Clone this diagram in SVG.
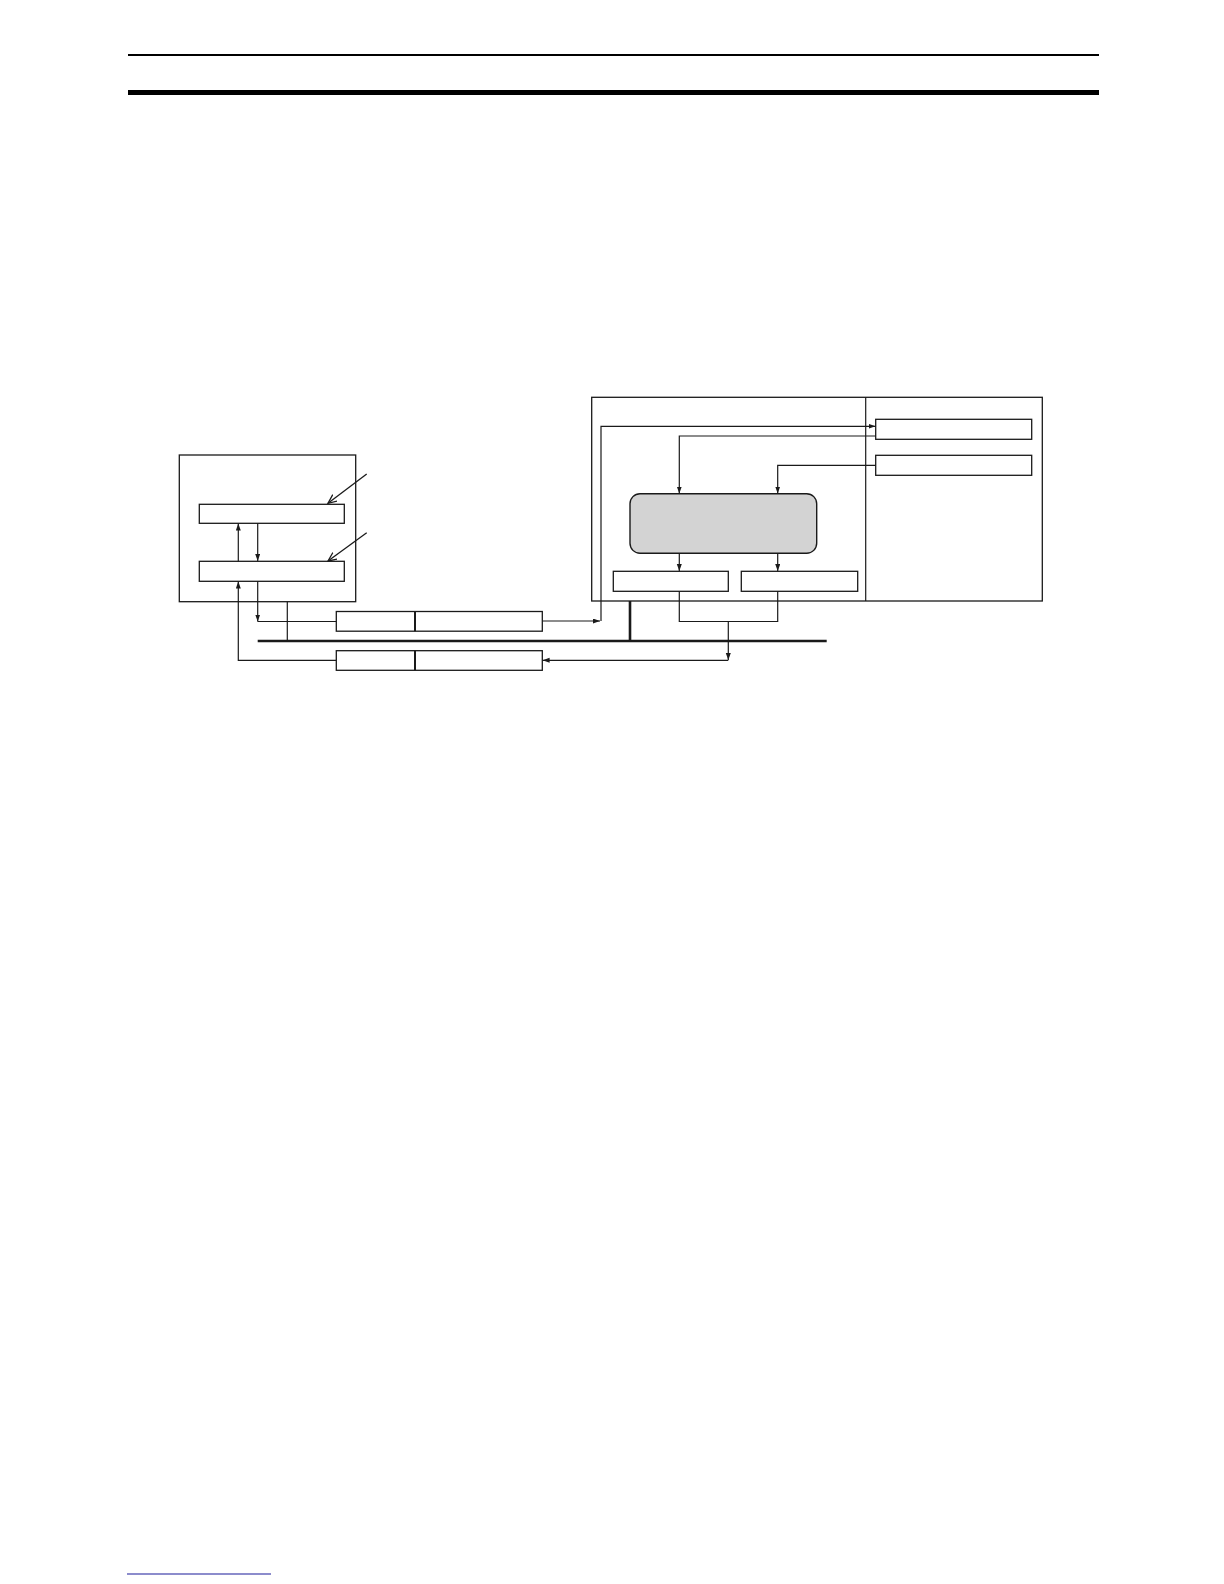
<svg xmlns="http://www.w3.org/2000/svg" width="1224" height="1584" viewBox="0 0 1224 1584">
<defs>
<style>
.box{fill:#fff;stroke:#1a1a1a;stroke-width:1.3}
.ln{fill:none;stroke:#1a1a1a;stroke-width:1.2}
.arr{fill:none;stroke:#1a1a1a;stroke-width:1.2;marker-end:url(#ah)}
.open{fill:none;stroke:#1a1a1a;stroke-width:1.3;marker-end:url(#oh)}
.bus{fill:none;stroke:#1a1a1a;stroke-width:2.6}
</style>
<marker id="ah" markerUnits="userSpaceOnUse" markerWidth="8" markerHeight="6" refX="7" refY="2.5" orient="auto">
<path d="M0,0 L7,2.5 L0,5 z" fill="#1a1a1a"/>
</marker>
<marker id="oh" markerUnits="userSpaceOnUse" markerWidth="12" markerHeight="10" refX="9" refY="4" orient="auto">
<path d="M0,0 L9,4 L0,8" fill="none" stroke="#1a1a1a" stroke-width="1.3"/>
</marker>
</defs>
<rect width="1224" height="1584" fill="#fff"/>
<g id="page-rules">
<line x1="128" y1="55" x2="1099" y2="55" stroke="#000" stroke-width="2.2"/>
<line x1="128" y1="92.5" x2="1099" y2="92.5" stroke="#000" stroke-width="5"/>
<line x1="127" y1="1574" x2="271" y2="1574" stroke="#1a1a9a" stroke-width="1.2"/>
</g>
<g id="left-unit">
<rect class="box" x="179.3" y="455" width="176.4" height="146.7"/>
</g>
<g id="left-upper-box">
<rect class="box" x="199.3" y="504.3" width="145" height="19"/>
</g>
<g id="left-lower-box">
<rect class="box" x="199.3" y="561.3" width="145" height="20"/>
</g>
<g id="right-unit">
<rect class="box" x="591.7" y="397.3" width="450.6" height="203.7"/>
<line class="ln" x1="865.7" y1="397.3" x2="865.7" y2="601"/>
</g>
<g id="right-top-box1">
<rect class="box" x="875.7" y="419.3" width="156" height="20"/>
</g>
<g id="right-top-box2">
<rect class="box" x="875.7" y="455.3" width="156" height="20"/>
</g>
<g id="process">
<rect x="630" y="493.7" width="186.7" height="59.6" rx="10" ry="10" fill="#d3d3d3" stroke="#1a1a1a" stroke-width="1.4"/>
</g>
<g id="out-box-left">
<rect class="box" x="613.3" y="571.3" width="115" height="20"/>
</g>
<g id="out-box-right">
<rect class="box" x="741.3" y="571.3" width="116.4" height="20"/>
</g>
<g id="frame-upper">
<rect class="box" x="336.3" y="611.5" width="206" height="19.7"/>
<line x1="415" y1="611.5" x2="415" y2="631.2" stroke="#1a1a1a" stroke-width="2"/>
</g>
<g id="frame-lower">
<rect class="box" x="336.3" y="650.7" width="206" height="19.6"/>
<line x1="415" y1="650.7" x2="415" y2="670.3" stroke="#1a1a1a" stroke-width="2"/>
</g>
<g id="connectors">
<line class="bus" x1="257.7" y1="641" x2="826.7" y2="641"/>
<line class="ln" x1="287.3" y1="601.7" x2="287.3" y2="641"/>
<line class="bus" x1="630" y1="601" x2="630" y2="641"/>
<line class="open" x1="366.7" y1="474" x2="328" y2="503.3"/>
<line class="open" x1="366.7" y1="532.7" x2="328" y2="561"/>
<line class="arr" x1="238.3" y1="561.3" x2="238.3" y2="523.6"/>
<line class="arr" x1="257.7" y1="523.3" x2="257.7" y2="561"/>
<line class="arr" x1="257.7" y1="581.3" x2="257.7" y2="621.5"/>
<line class="ln" x1="257.7" y1="621.5" x2="336.3" y2="621.5"/>
<line class="arr" x1="542.3" y1="621" x2="600" y2="621"/>
<polyline class="arr" points="601,621 601,426.3 875.5,426.3"/>
<polyline class="arr" points="875.7,436 679.3,436 679.3,493.5"/>
<polyline class="arr" points="875.7,465.3 777.7,465.3 777.7,493.5"/>
<line class="arr" x1="679.3" y1="553.3" x2="679.3" y2="571.1"/>
<line class="arr" x1="777.7" y1="553.3" x2="777.7" y2="571.1"/>
<polyline class="ln" points="679.3,591.3 679.3,621.5 777.7,621.5 777.7,591.3"/>
<line class="arr" x1="728.3" y1="621.5" x2="728.3" y2="660"/>
<line class="arr" x1="728.3" y1="660.3" x2="542.6" y2="660.3"/>
<polyline class="arr" points="336.3,660.3 238.3,660.3 238.3,581.6"/>
</g>
</svg>
